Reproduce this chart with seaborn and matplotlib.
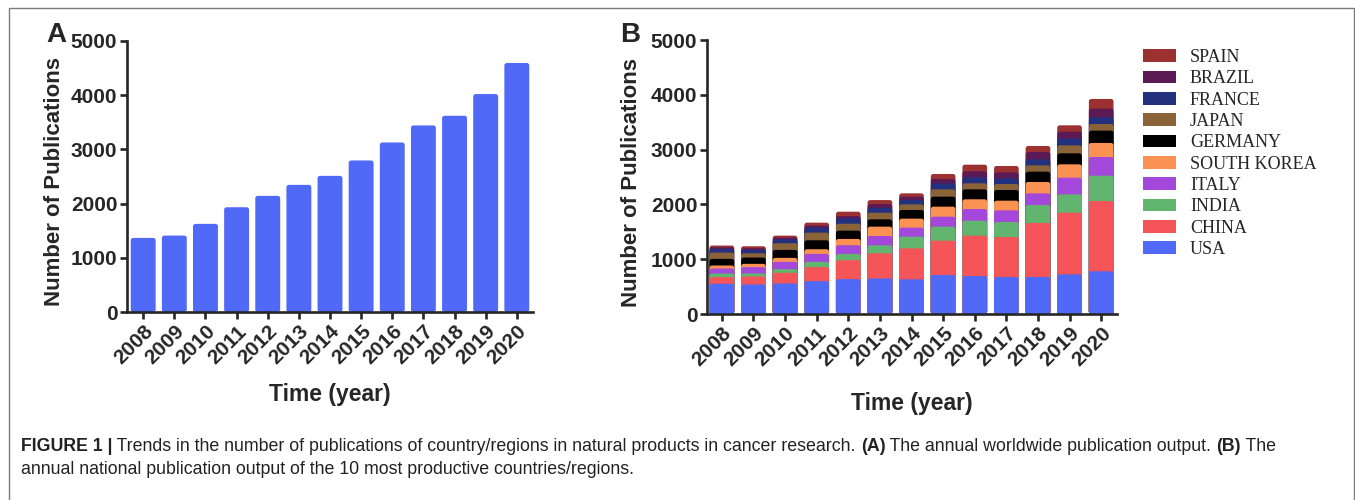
import matplotlib
matplotlib.use("Agg")
import numpy as np
import pandas as pd
import seaborn as sns
import matplotlib.pyplot as plt
from matplotlib.patches import Patch, Rectangle, FancyBboxPatch
from matplotlib import font_manager

# ---- data -------------------------------------------------------------
years = [str(y) for y in range(2008, 2021)]

# (A) worldwide annual publication output
total_pubs = [1367, 1410, 1626, 1933, 2143, 2346, 2512, 2796, 3128, 3442, 3621, 4021, 4594]

# (B) annual output of the 10 most productive countries/regions
usa = [552, 539, 558, 600, 636, 648, 633, 712, 693, 675, 675, 724, 779]
china = [121, 146, 194, 255, 346, 461, 565, 626, 737, 730, 986, 1125, 1283]
india = [66, 55, 66, 97, 115, 146, 213, 256, 273, 274, 328, 335, 462]
italy = [91, 115, 134, 145, 158, 169, 165, 182, 213, 213, 213, 304, 341]
south_korea = [55, 60, 72, 85, 115, 170, 164, 183, 177, 176, 207, 243, 256]
germany = [121, 115, 146, 163, 151, 133, 158, 182, 182, 195, 188, 201, 225]
japan = [115, 79, 121, 140, 127, 121, 103, 134, 110, 109, 116, 146, 121]
france = [68, 61, 73, 91, 97, 91, 79, 110, 109, 104, 110, 122, 122]
brazil = [28, 30, 30, 36, 43, 67, 61, 79, 110, 109, 133, 127, 158]
spain = [32, 36, 36, 55, 79, 73, 61, 91, 121, 116, 110, 116, 177]

countries = ["USA", "CHINA", "INDIA", "ITALY", "SOUTH KOREA",
             "GERMANY", "JAPAN", "FRANCE", "BRAZIL", "SPAIN"]
series = [usa, china, india, italy, south_korea, germany, japan, france, brazil, spain]
colors = {
    "USA": "#5169F7",
    "CHINA": "#F55459",
    "INDIA": "#62B56E",
    "ITALY": "#A448DB",
    "SOUTH KOREA": "#FB9254",
    "GERMANY": "#000000",
    "JAPAN": "#8A6338",
    "FRANCE": "#22307E",
    "BRAZIL": "#5C1A55",
    "SPAIN": "#9C3131",
}

# ---- style ------------------------------------------------------------
sns.set_style("ticks")
plt.rcParams["font.family"] = ["Liberation Sans", "DejaVu Sans"]

W, H = 1355, 500
fig = plt.figure(figsize=(W / 100, H / 100), dpi=100)


def px_axes(left, top, right, bottom):
    return fig.add_axes([left / W, 1 - bottom / H, (right - left) / W, (bottom - top) / H])


axA = px_axes(127, 41, 533, 312)
axB = px_axes(707, 40, 1117, 314)

# panel A: single series
sns.barplot(x=years, y=total_pubs, color=colors["USA"], saturation=1,
            width=0.8, ax=axA, linewidth=0)

# panel B: stacked bars drawn as overlapping cumulative totals
df = pd.DataFrame(dict(zip(countries, series)), index=years)
cum = df.cumsum(axis=1)
for c in reversed(countries):
    sns.barplot(x=years, y=cum[c].values, color=colors[c], saturation=1,
                width=0.78, ax=axB, linewidth=0)


def style_axes(ax, xlim, label_x, label_y_top):
    ax.set_ylim(0, 5000)
    ax.set_yticks(range(0, 5001, 1000))
    ax.set_xlim(*xlim)
    sns.despine(ax=ax)
    for s in ("left", "bottom"):
        ax.spines[s].set_linewidth(1.9)
    ax.tick_params(axis="both", direction="out", length=5, width=1.9,
                   labelsize=15, pad=2)
    for lbl in ax.get_yticklabels():
        lbl.set_fontweight("bold")
    for lbl in ax.get_xticklabels():
        lbl.set_fontweight("bold")
        lbl.set_rotation(45)
        lbl.set_ha("right")
        lbl.set_va("top")
        lbl.set_rotation_mode("anchor")
    ax.set_ylabel("Number of Publications", fontsize=16, fontweight="bold")
    ax.yaxis.set_label_coords(label_x, 0.48)
    ax.set_xlabel("Time (year)", fontsize=16.5, fontweight="bold")
    ax.xaxis.set_label_coords(0.5, label_y_top)


style_axes(axA, (-0.52, 12.52), -0.152, -0.262)
style_axes(axB, (-0.47, 12.5), -0.158, -0.285)


def round_bars(ax, radius_px=2.5):
    """Swap the rectangular bar patches for ones with softly rounded corners."""
    fig.canvas.draw()
    bbox = ax.get_window_extent()
    x0, x1 = ax.get_xlim()
    y0, y1 = ax.get_ylim()
    xu = (x1 - x0) / bbox.width     # data units per pixel along x
    yu = (y1 - y0) / bbox.height    # data units per pixel along y
    r = radius_px * xu
    aspect = yu / xu
    for p in list(ax.patches):
        if not isinstance(p, Rectangle):
            continue
        x, y = p.get_xy()
        w, h = p.get_width(), p.get_height()
        fb = FancyBboxPatch((x, y), w, h, boxstyle=f"round,pad=0,rounding_size={r}",
                            mutation_aspect=aspect, facecolor=p.get_facecolor(),
                            edgecolor="none", zorder=p.get_zorder())
        p.remove()
        ax.add_patch(fb)


# panel letters
fig.text(46 / W, 1 - 35 / H, "A", fontsize=20, fontweight="bold", va="center", ha="left")
fig.text(620 / W, 1 - 35 / H, "B", fontsize=20, fontweight="bold", va="center", ha="left")

# legend (top entry = top of the stack)
handles = [Patch(facecolor=colors[c], edgecolor="none") for c in reversed(countries)]
axB.legend(handles, list(reversed(countries)), loc="upper left",
           bbox_to_anchor=(1143 / W, 1 - 49 / H), bbox_transform=fig.transFigure,
           frameon=False, borderpad=0, borderaxespad=0,
           prop={"family": ["Liberation Serif", "DejaVu Serif"], "size": 13},
           handlelength=1.85, handleheight=0.72, handletextpad=0.75, labelspacing=0.24)

round_bars(axA)
round_bars(axB)

# figure frame
fig.add_artist(Rectangle((9 / W, -0.05), (1354 - 9) / W, 1 - 8 / H + 0.05,
                         transform=fig.transFigure, fill=False,
                         edgecolor="#7a7a7a", linewidth=1.0, clip_on=False))

# caption with mixed-weight runs
names = {f.name for f in font_manager.fontManager.ttflist}
cap_family = "Liberation Sans Narrow" if "Liberation Sans Narrow" in names else "Liberation Sans"
renderer = fig.canvas.get_renderer()


def text_width(s, weight, size):
    t = fig.text(0, 0, s, fontsize=size, fontweight=weight, family=cap_family)
    w = t.get_window_extent(renderer).width
    t.remove()
    return w


def advance(s, weight, size):
    return text_width(s + "x", weight, size) - text_width("x", weight, size)


line1 = [("FIGURE 1 |", "bold"),
         (" Trends in the number of publications of country/regions in natural products in cancer research. ", "normal"),
         ("(A)", "bold"),
         (" The annual worldwide publication output. ", "normal"),
         ("(B)", "bold"),
         (" The", "normal")]
line2 = [("annual national publication output of the 10 most productive countries/regions.", "normal")]

x0, target = 21, 1278 - 21
base = 10.0
w_base = sum(advance(s, wt, base) for s, wt in line1)
cap_size = base * target / w_base


def draw_line(runs, y_px):
    x = x0
    for s, wt in runs:
        fig.text(x / W, 1 - y_px / H, s, fontsize=cap_size, fontweight=wt,
                 family=cap_family, ha="left", va="baseline", color="#222222")
        x += advance(s, wt, cap_size)


draw_line(line1, 451)
draw_line(line2, 474)

fig.savefig("out.png", dpi=100)
